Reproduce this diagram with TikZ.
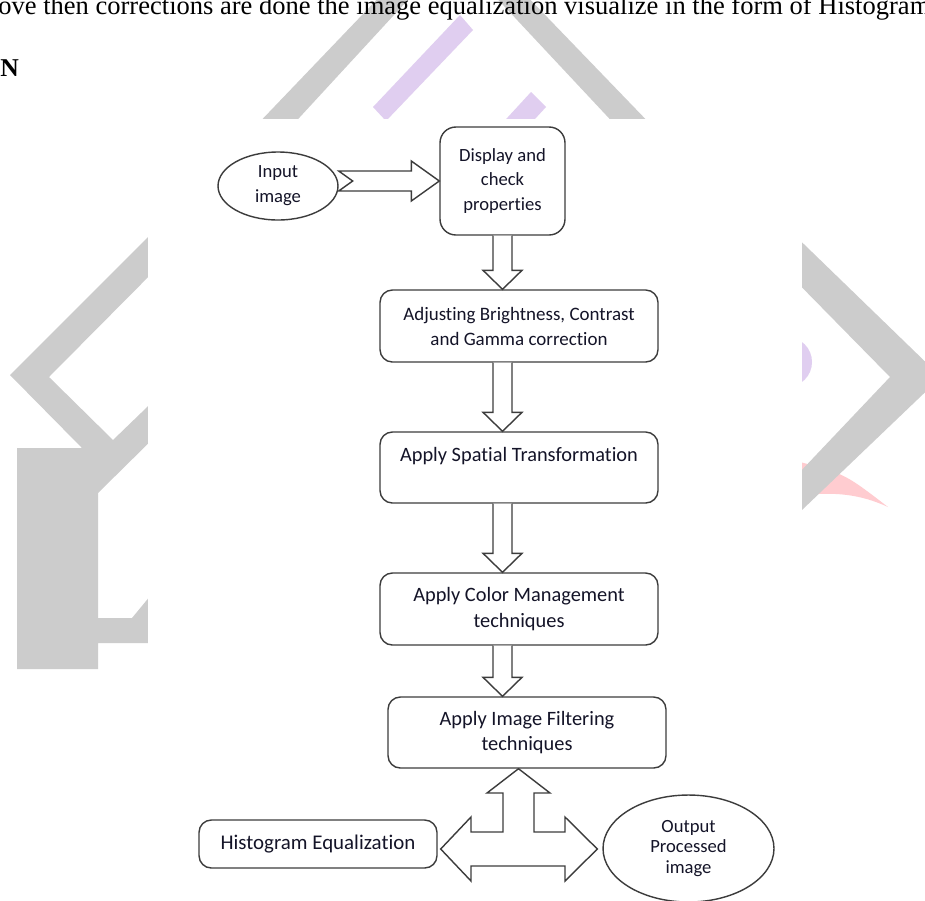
\documentclass[tikz,border=0pt]{standalone}
\usepackage{fontspec}
\setmainfont[Ligatures={NoCommon}]{Carlito}
\newfontfamily\pagefont{Liberation Serif}
\usetikzlibrary{calc,shapes.geometric}
\definecolor{wmgray}{RGB}{204,204,204}
\definecolor{wmpurple}{RGB}{224,206,240}
\definecolor{wmpink}{RGB}{255,204,208}
\definecolor{edgec}{RGB}{60,60,60}
\definecolor{txt}{RGB}{20,20,40}
\newcommand\blkdn[2]{%
  \path (ax|-#1.south) coordinate (s) (ax|-#2.north) coordinate (e);
  \draw[blk] ($(s)+(-9.5,0)$) -- ($(e)+(-9.5,-19)$) -- ($(e)+(-19.5,-19)$) -- (e)
    -- ($(e)+(19.5,-19)$) -- ($(e)+(9.5,-19)$) -- ($(s)+(9.5,0)$);}
\begin{document}
\begin{tikzpicture}[x=0.02cm,y=-0.02cm,
  box/.style={draw=edgec, line width=0.8pt, rounded corners=7pt, fill=white,
    align=center, text=txt, inner sep=0pt, font=\fontsize{10.6}{14.2}\selectfont},
  ell/.style={ellipse, draw=edgec, line width=0.8pt, fill=white,
    align=center, text=txt, inner sep=0pt, font=\fontsize{10.6}{14.2}\selectfont},
  bigtxt/.style={font=\fontsize{11.6}{14.6}\selectfont},
  blk/.style={draw=edgec, line width=0.8pt, fill=white, line join=miter}]
\useasboundingbox (0,0) rectangle (925,900);
\clip (0,0) rectangle (925,900);
\fill[white] (0,0) rectangle (925,900);
% watermark
\fill[wmgray] (252,130) -- (386,-10) -- (417,-10) -- (288,130) -- cycle;
\fill[wmgray] (489,-10) -- (521,-10) -- (656,130) -- (620,130) -- cycle;
\fill[wmpurple] (373,107) -- (460,15) -- (473,30) -- (386,121) -- cycle;
\fill[wmpurple] (531,92) -- (546,107) -- (500,157) -- (485,142) -- cycle;
\fill[wmpurple] (787,362) circle (25);
\fill[wmpink] (800,462) .. controls (845,474) .. (888,507)
  .. controls (860,494) and (835,492) .. (805,495) -- cycle;
\fill[wmgray] (780,221) -- (941,377) -- (780,531) -- (780,493) -- (890,377) -- (780,265) -- cycle;
\fill[wmgray] (170,215) -- (10,375) -- (82,448) -- (17,448) -- (17,669) -- (98,669)
  -- (98,643) -- (170,643) -- (170,572) -- (132,618) -- (98,618) -- (98,493)
  -- (170,422) -- (170,385) -- (113,440) -- (49,377) -- (170,255) -- cycle;
\fill[white] (148,119) rectangle (802,900);
% page text
\node[anchor=base west, inner sep=0pt, font=\pagefont\fontsize{15.1}{18}\selectfont] (pt) at (-2,14)
  {ove then corrections are done the image equalization visualize in the form of Histogram};
\node[anchor=base west, inner sep=0pt, font=\pagefont\bfseries\fontsize{14.6}{17}\selectfont] (pn) at (0,76) {N};
% diagram nodes
\coordinate (ax) at (502.5,0);
\node[ell, minimum width=2.4cm, minimum height=1.36cm] (inp) at (278,186) {Input\\image};
\node[box, rounded corners=9pt, minimum width=2.5cm, minimum height=2.16cm] (disp) at (502.5,181)
  {Display and\\check\\properties};
\node[box, font=\fontsize{10.8}{14.2}\selectfont, minimum width=5.56cm, minimum height=1.44cm] (adj) at (519,326)
  {Adjusting Brightness, Contrast\\and Gamma correction};
\node[box, bigtxt, minimum width=5.56cm, minimum height=1.42cm] (spat) at (519,467.5)
  {Apply Spatial Transformation\\\mbox{}};
\node[box, bigtxt, minimum width=5.56cm, minimum height=1.44cm] (col) at (519,609)
  {Apply Color Management\\techniques};
\node[box, bigtxt, minimum width=5.56cm, minimum height=1.42cm] (filt) at (527,732.5)
  {Apply Image Filtering\\techniques};
\node[box, font=\fontsize{11.9}{14.6}\selectfont, minimum width=4.76cm, minimum height=0.96cm] (hist) at (318,844)
  {Histogram Equalization};
\node[ell, minimum width=3.42cm, minimum height=2.14cm, font=\fontsize{10.6}{11.9}\selectfont]
  (out) at (688.5,848.5) {Output\\Processed\\image};
% connectors
\path (inp.east|-disp.west) coordinate (rs) (disp.west) coordinate (re);
\draw[blk] ($(rs)+(0,-10)$) -- ($(re)+(-28,-10)$) -- ($(re)+(-28,-20)$) -- (re)
  -- ($(re)+(-28,20)$) -- ($(re)+(-28,10)$) -- ($(rs)+(0,10)$) -- ($(rs)+(14,0)$) -- cycle;
\blkdn{disp}{adj}
\blkdn{adj}{spat}
\blkdn{spat}{col}
\blkdn{col}{filt}
\coordinate (tc) at (518.5,849);
\draw[blk] (tc|-filt.south) -- ($(tc)+(31.5,-56)$) -- ($(tc)+(15.5,-56)$) -- ($(tc)+(15.5,-17)$)
  -- ($(tc)+(46.5,-17)$) -- ($(tc)+(46.5,-32)$) -- ($(out.west|-tc)+(-5,0)$)
  -- ($(tc)+(46.5,32)$) -- ($(tc)+(46.5,17)$) -- ($(tc)+(-47.5,17)$) -- ($(tc)+(-47.5,32)$)
  -- ($(hist.east|-tc)+(3,0)$) -- ($(tc)+(-47.5,-32)$) -- ($(tc)+(-47.5,-17)$)
  -- ($(tc)+(-15.5,-17)$) -- ($(tc)+(-15.5,-56)$) -- ($(tc)+(-31.5,-56)$) -- cycle;
\end{tikzpicture}
\end{document}
